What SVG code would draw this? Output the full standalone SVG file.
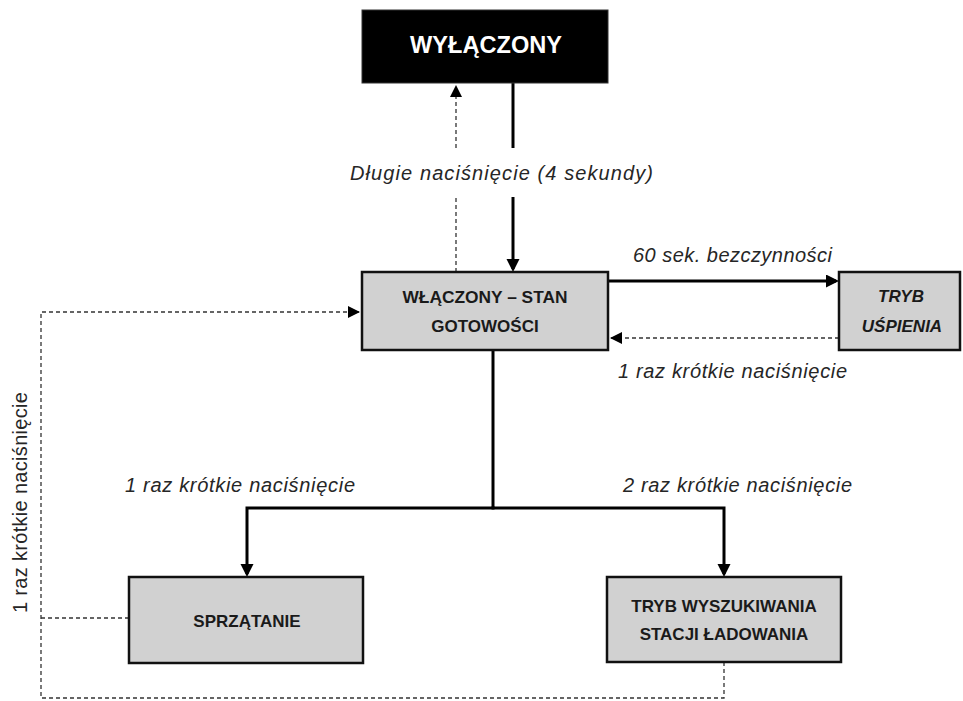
<svg xmlns="http://www.w3.org/2000/svg" width="963" height="701" viewBox="0 0 963 701">
<style>
.box{fill:#d1d1d1;stroke:#111;stroke-width:2.5}
.dark{fill:#000;stroke:#333;stroke-width:1}
.bt{font-family:"Liberation Sans",Arial,sans-serif;font-weight:bold;font-size:17px;fill:#1a1a1a;text-anchor:middle}
.lbl{font-family:"Liberation Sans",Arial,sans-serif;font-style:italic;font-size:20px;fill:#262626;text-anchor:middle}
.solid{fill:none;stroke:#000;stroke-width:3;stroke-linejoin:miter}
.dash{fill:none;stroke:#333;stroke-width:1.3;stroke-dasharray:4 3}
</style>
<defs>
<marker id="ah" markerUnits="userSpaceOnUse" markerWidth="14" markerHeight="14" refX="10" refY="6.5" orient="auto">
<path d="M0,0 L13,6.5 L0,13 z" fill="#000"/>
</marker>
<marker id="ahd" markerUnits="userSpaceOnUse" markerWidth="14" markerHeight="14" refX="11" refY="6" orient="auto">
<path d="M0,0 L12,6 L0,12 z" fill="#000"/>
</marker>
</defs>
<rect width="963" height="701" fill="#fff"/>
<g id="connectors">
<path class="solid" d="M513,83 V148"/>
<path class="solid" d="M513,197 V269" marker-end="url(#ah)"/>
<path class="dash" d="M456,272 V197"/>
<path class="dash" d="M456,148 V86" marker-end="url(#ahd)"/>
<path class="solid" d="M608,281 H836" marker-end="url(#ah)"/>
<path class="dash" d="M839,338 H611" marker-end="url(#ahd)"/>
<path class="solid" d="M493,350 V508"/>
<path class="solid" d="M494.5,508 H247 V574" marker-end="url(#ah)"/>
<path class="solid" d="M491.5,508 H724 V574" marker-end="url(#ah)"/>
<path class="dash" d="M724,662 V698 H41 V312 H359" marker-end="url(#ahd)"/>
<path class="dash" d="M129,618 H41"/>
<text class="lbl" x="501.5" y="180" textLength="303" lengthAdjust="spacing">Długie naciśnięcie (4 sekundy)</text>
<text class="lbl" x="732.5" y="262" textLength="199" lengthAdjust="spacing">60 sek. bezczynności</text>
<text class="lbl" x="732.5" y="378" textLength="229" lengthAdjust="spacing">1 raz krótkie naciśnięcie</text>
<text class="lbl" x="240" y="492" textLength="230" lengthAdjust="spacing">1 raz krótkie naciśnięcie</text>
<text class="lbl" x="737.5" y="492" textLength="229" lengthAdjust="spacing">2 raz krótkie naciśnięcie</text>
<text class="lbl" style="font-style:normal" transform="translate(27,502.5) rotate(-90)" x="0" y="0" textLength="221" lengthAdjust="spacing">1 raz krótkie naciśnięcie</text>
</g>
<g id="node-wylaczony">
<rect class="dark" x="362" y="10" width="246" height="73"/>
<text class="bt" x="486" y="53" style="font-size:24px;fill:#fff" textLength="152" lengthAdjust="spacingAndGlyphs">WYŁĄCZONY</text>
</g>
<g id="node-wlaczony">
<rect class="box" x="362" y="272" width="246" height="78"/>
<text class="bt" x="485" y="303" textLength="165" lengthAdjust="spacingAndGlyphs">WŁĄCZONY – STAN</text>
<text class="bt" x="485" y="332">GOTOWOŚCI</text>
</g>
<g id="node-tryb-uspienia">
<rect class="box" x="839" y="272" width="121" height="78"/>
<text class="bt" x="901" y="302" style="font-style:italic">TRYB</text>
<text class="bt" x="902" y="332" style="font-style:italic">UŚPIENIA</text>
</g>
<g id="node-sprzatanie">
<rect class="box" x="129" y="577" width="234" height="86"/>
<text class="bt" x="247" y="627">SPRZĄTANIE</text>
</g>
<g id="node-tryb-wyszukiwania">
<rect class="box" x="607" y="577" width="234" height="85"/>
<text class="bt" x="724" y="612">TRYB WYSZUKIWANIA</text>
<text class="bt" x="724" y="640">STACJI ŁADOWANIA</text>
</g>
</svg>
